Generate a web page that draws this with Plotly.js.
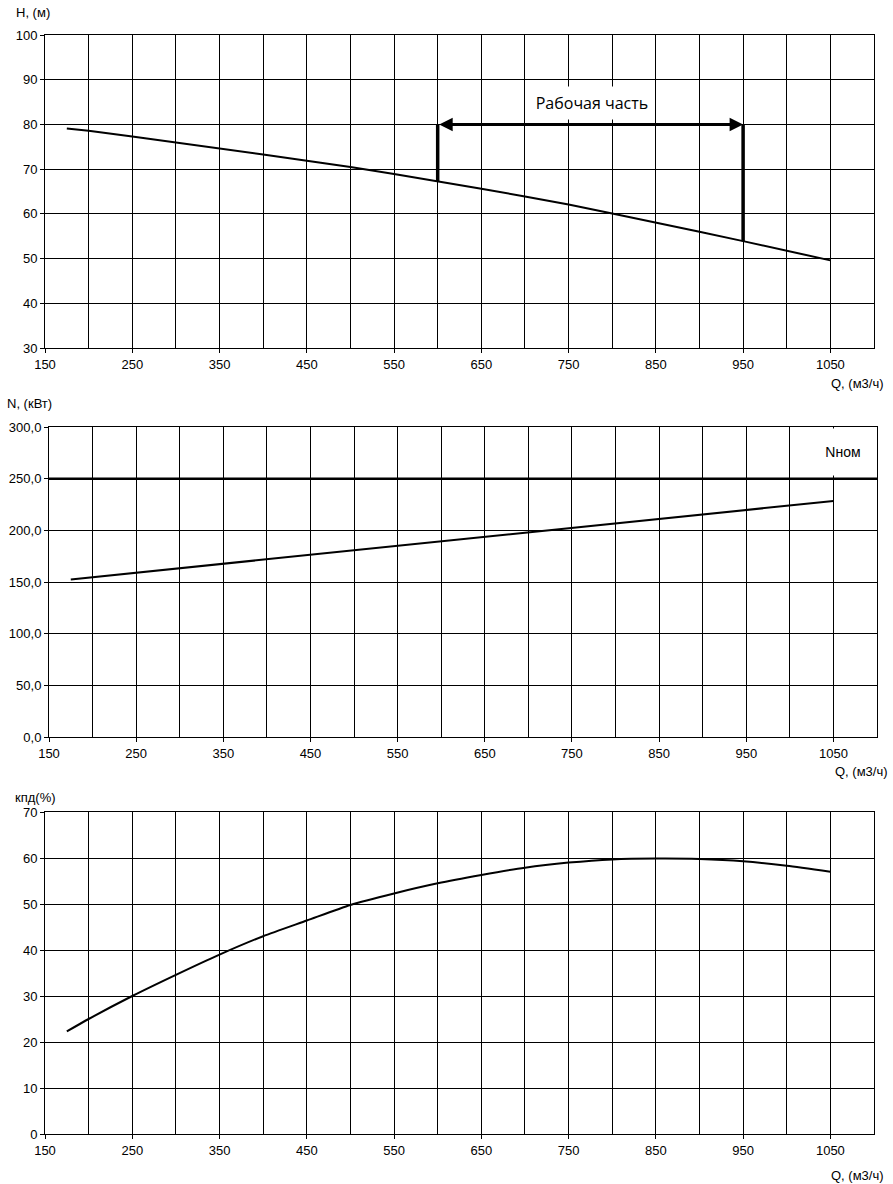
<!DOCTYPE html>
<html>
<head>
<meta charset="utf-8">
<script src="https://cdn.plot.ly/plotly-3.0.1.min.js"></script>
<style>
  html, body { margin: 0; padding: 0; background: #fff; }
  #chartContainer { width: 893px; height: 1184px; }
</style>
</head>
<body>
<div id="chartContainer"></div>
<script>
// Q axis, m3/h
var qRange = [150, 1100];

// head curve H(Q)
var qH = [175, 200, 250, 300, 350, 400, 450, 500, 550, 600, 650, 700, 750, 800, 850, 900, 950, 1000, 1050];
var hH = [79.1, 78.6, 77.3, 76.0, 74.7, 73.3, 71.9, 70.5, 68.9, 67.3, 65.6, 63.9, 62.1, 60.1, 58.1, 56.0, 53.9, 51.8, 49.6];

// working range
var workQ = [600, 950];
var workTop = 80;
var workLabel = 'Рабочая часть';

// power curve N(Q)
var qN = [175, 250, 350, 450, 550, 650, 750, 850, 950, 1050];
var nN = [152.5, 159.0, 167.5, 176.0, 184.5, 193.0, 201.7, 210.5, 219.5, 228.4];
var nNom = 250;
var nNomLabel = 'Nном';

// efficiency curve
var qE = [175, 200, 250, 300, 350, 400, 450, 500, 550, 600, 650, 700, 750, 800, 850, 900, 950, 1000, 1050];
var eE = [22.3, 25.0, 30.0, 34.6, 39.0, 43.0, 46.4, 49.8, 52.3, 54.5, 56.3, 57.9, 59.0, 59.7, 59.9, 59.8, 59.3, 58.3, 57.0];

function hAt(q) { return hH[qH.indexOf(q)]; }

var fontMain = { family: 'Liberation Sans, Arial, sans-serif', size: 13, color: '#000' };

var data = [
  { x: qH, y: hH, xaxis: 'x', yaxis: 'y', mode: 'lines', line: { color: '#000', width: 2 } },
  { x: [workQ[0], workQ[0]], y: [hAt(workQ[0]), workTop], xaxis: 'x', yaxis: 'y', mode: 'lines', line: { color: '#000', width: 3.5 } },
  { x: [workQ[1], workQ[1]], y: [hAt(workQ[1]), workTop], xaxis: 'x', yaxis: 'y', mode: 'lines', line: { color: '#000', width: 3.5 } },
  { x: qN, y: nN, xaxis: 'x2', yaxis: 'y2', mode: 'lines', line: { color: '#000', width: 2 } },
  { x: qRange, y: [nNom, nNom], xaxis: 'x2', yaxis: 'y2', mode: 'lines', line: { color: '#000', width: 2.5 } },
  { x: qE, y: eE, xaxis: 'x3', yaxis: 'y3', mode: 'lines', line: { color: '#000', width: 2, shape: 'spline', smoothing: 0.6 } }
];

function xAxis(dom, anchor) {
  return {
    domain: dom, anchor: anchor, range: qRange,
    tick0: 150, dtick: 100, ticks: 'outside', ticklen: 4, tickcolor: '#000',
    showline: true, linecolor: '#000', linewidth: 1, mirror: true,
    showgrid: true, gridcolor: '#000', gridwidth: 1, zeroline: false,
    minor: { dtick: 50, showgrid: true, gridcolor: '#000', gridwidth: 1, ticks: '' },
    tickfont: fontMain, fixedrange: true
  };
}
function yAxis(dom, anchor, range, dtick, fmt) {
  return {
    domain: dom, anchor: anchor, range: range, dtick: dtick, tickformat: fmt,
    ticks: 'outside', ticklen: 4, tickcolor: '#000',
    showline: true, linecolor: '#000', linewidth: 1, mirror: true,
    showgrid: true, gridcolor: '#000', gridwidth: 1, zeroline: false,
    tickfont: fontMain, fixedrange: true
  };
}

var W = 893, H = 1184;
function px(x) { return x / W; }
function py(y) { return 1 - y / H; }

var layout = {
  width: W, height: H,
  margin: { l: 0, r: 0, t: 0, b: 0 },
  paper_bgcolor: '#fff', plot_bgcolor: '#fff',
  showlegend: false,
  separators: ', ',
  font: fontMain,
  xaxis: xAxis([px(45), px(874)], 'y'),
  yaxis: yAxis([py(348), py(35)], 'x', [30, 100], 10, 'd'),
  xaxis2: xAxis([px(49), px(877)], 'y2'),
  yaxis2: yAxis([py(737), py(427)], 'x2', [0, 300], 50, '.1f'),
  xaxis3: xAxis([px(45), px(874)], 'y3'),
  yaxis3: yAxis([py(1134), py(812)], 'x3', [0, 70], 10, 'd'),
  annotations: [
    { xref: 'paper', yref: 'paper', x: px(14), y: py(13), xanchor: 'left', yanchor: 'middle', text: 'H, (м)', showarrow: false, font: fontMain },
    { xref: 'paper', yref: 'paper', x: px(886), y: py(383), xanchor: 'right', yanchor: 'middle', text: 'Q, (м3/ч)', showarrow: false, font: fontMain },
    { xref: 'paper', yref: 'paper', x: px(5), y: py(403), xanchor: 'left', yanchor: 'middle', text: 'N, (кВт)', showarrow: false, font: fontMain },
    { xref: 'paper', yref: 'paper', x: px(890), y: py(772), xanchor: 'right', yanchor: 'middle', text: 'Q, (м3/ч)', showarrow: false, font: fontMain },
    { xref: 'paper', yref: 'paper', x: px(13), y: py(797), xanchor: 'left', yanchor: 'middle', text: 'кпд(%)', showarrow: false, font: fontMain },
    { xref: 'paper', yref: 'paper', x: px(886), y: py(1175), xanchor: 'right', yanchor: 'middle', text: 'Q, (м3/ч)', showarrow: false, font: fontMain },
    // working range arrow
    { xref: 'x', yref: 'y', axref: 'x', ayref: 'y', x: workQ[1], y: workTop, ax: workQ[0], ay: workTop,
      showarrow: true, arrowside: 'end+start', arrowhead: 2, arrowsize: 0.9, arrowwidth: 3, arrowcolor: '#000', text: '' },
    { xref: 'paper', yref: 'paper', x: px(592), y: py(103), xanchor: 'center', yanchor: 'middle',
      text: workLabel, showarrow: false, bgcolor: '#fff', width: 120, height: 30,
      font: { family: 'Open Sans, sans-serif', size: 16, color: '#000' } },
    // nominal power label
    { xref: 'paper', yref: 'paper', x: px(843), y: py(452), xanchor: 'center', yanchor: 'middle',
      text: nNomLabel, showarrow: false, bgcolor: '#fff', width: 60, height: 44,
      font: { family: 'Liberation Sans, Arial, sans-serif', size: 14, color: '#000' } }
  ]
};

Plotly.newPlot('chartContainer', data, layout, { displayModeBar: false, staticPlot: true });
</script>
</body>
</html>
